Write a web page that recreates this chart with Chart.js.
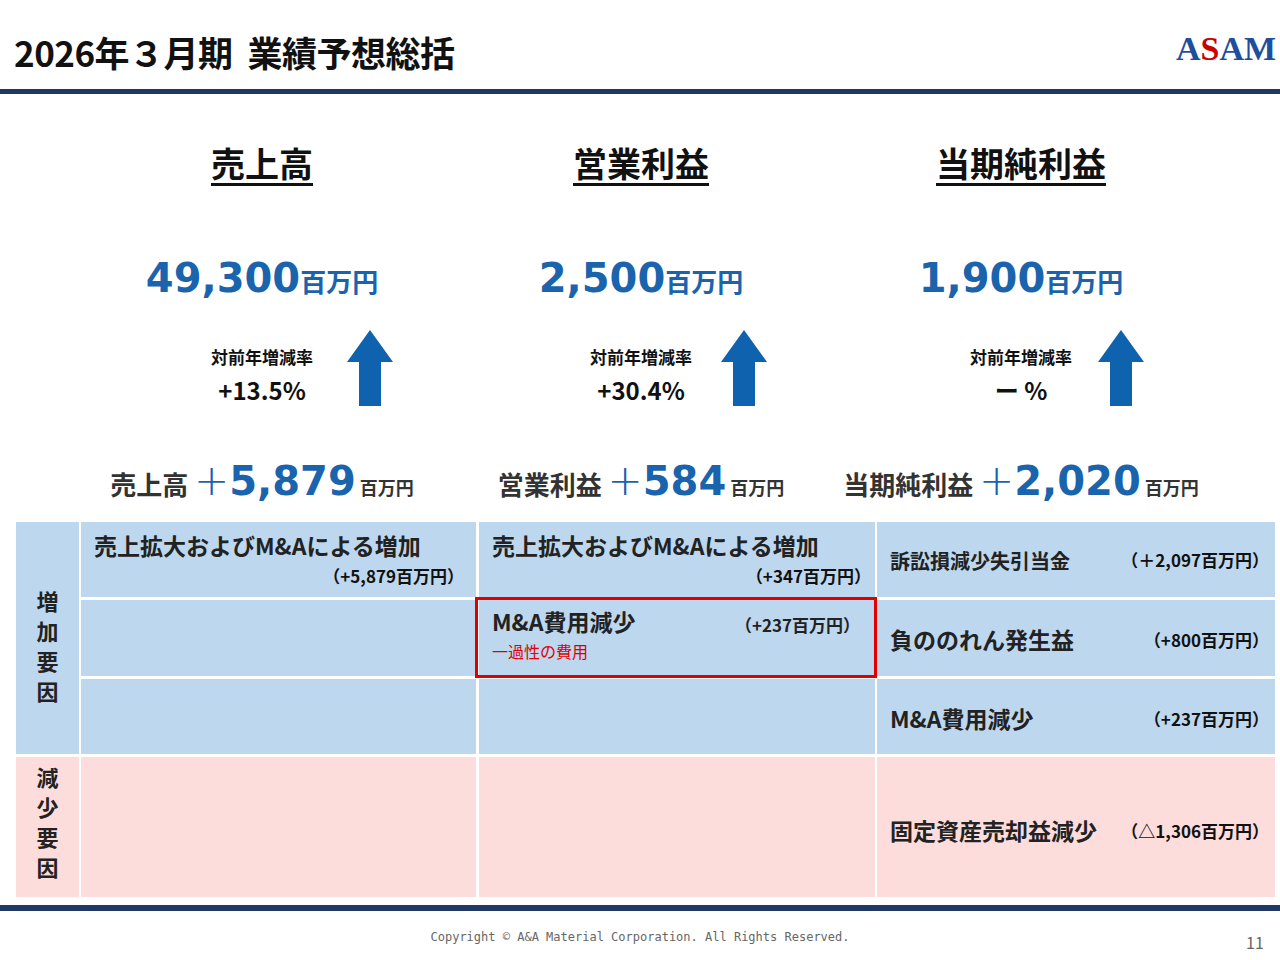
<!DOCTYPE html>
<html><head><meta charset="utf-8">
<script src="https://cdn.jsdelivr.net/npm/chart.js@4/dist/chart.umd.min.js"></script>
<style>
body{margin:0;width:1280px;height:960px;background:#fff;font-family:"Noto Sans CJK JP","Noto Sans",sans-serif;position:relative;overflow:hidden;color:#111}
.a{position:absolute}
.c{text-align:center}
.cell{position:absolute;background:#bdd7ee}
.pk{background:#fddcdc}
.b{font-weight:bold}
.num{font-family:"DejaVu Sans";font-weight:bold}
</style></head><body>
<div class="a b" style="left:14px;top:26px;font-size:35px;letter-spacing:-0.5px">2026年３月期&nbsp; 業績予想総括</div>
<div class="a" style="left:1176px;top:30px;font-family:'Liberation Serif';font-weight:bold;font-size:34px;color:#1f4e9c">A<span style="color:#c00">S</span>AM</div>
<div class="a" style="left:0;top:89px;width:1280px;height:5px;background:#1f3864"></div>
<div id="cols"></div>
<div class="a" style="left:0;top:320px;width:1280px;height:95px"><canvas id="arrows"></canvas></div>
<div id="tbl"></div>
<div class="a" style="left:0;top:905px;width:1280px;height:6px;background:#1f3864"></div>
<div class="a c" style="left:0;width:1280px;top:930px;font-family:'DejaVu Sans Mono';font-size:12px;color:#666">Copyright © A&amp;A Material Corporation. All Rights Reserved.</div>
<div class="a" style="left:1246px;top:930px;font-size:16px;color:#666">11</div>
<script>
const headings=["売上高","営業利益","当期純利益"];
const totals=["49,300","2,500","1,900"];
const rates=["+13.5%","+30.4%","ー %"];
const deltaLabels=["売上高","営業利益","当期純利益"];
const deltas=["5,879","584","2,020"];
const centers=[262,641,1021];
const arrowX=[370,744,1121];
let h="";
for(let i=0;i<3;i++){
 const x=centers[i]-200;
 h+=`<div class="a c" style="left:${x}px;width:400px;top:138px;font-size:34px;font-weight:bold;text-decoration:underline;text-underline-offset:6px">${headings[i]}</div>`;
 h+=`<div class="a c" style="left:${x}px;width:400px;top:255px;color:#1a63ad;white-space:nowrap"><span class="num" style="font-size:40px">${totals[i]}</span><span class="b" style="font-size:26px">百万円</span></div>`;
 h+=`<div class="a c b" style="left:${x}px;width:400px;top:344px;font-size:17px">対前年増減率</div>`;
 h+=`<div class="a c b" style="left:${x}px;width:400px;top:372px;font-size:24px">${rates[i]}</div>`;
 h+=`<div class="a c" style="left:${x-30}px;width:460px;top:456px;white-space:nowrap"><span style="font-size:26px;font-weight:bold;color:#333">${deltaLabels[i]} </span><span style="font-size:42px;color:#1a63ad;font-family:'DejaVu Sans';font-weight:200">+</span><span class="num" style="font-size:40px;color:#1a63ad">${deltas[i]}</span><span style="font-size:18px;font-weight:bold;color:#333"> 百万円</span></div>`;
}
document.getElementById("cols").innerHTML=h;
new Chart(document.getElementById("arrows"),{type:"bar",
 data:{labels:[],datasets:[{data:[]}]},
 options:{responsive:true,maintainAspectRatio:false,animation:false,events:[],plugins:{legend:{display:false},tooltip:{enabled:false}},
 scales:{x:{display:false},y:{display:false}}},
 plugins:[{id:"arr",afterDraw(ch){const c=ch.ctx;c.fillStyle="#0f62ad";
  arrowX.forEach(x=>{const top=10,bot=86;
   c.beginPath();c.moveTo(x,top);c.lineTo(x+23,top+32);c.lineTo(x+11,top+32);c.lineTo(x+11,bot);c.lineTo(x-11,bot);c.lineTo(x-11,top+32);c.lineTo(x-23,top+32);c.closePath();c.fill();});}}]});
const colX=[16,81,479,877],colW=[63,395,396,398];
const rowY=[522,600,679,757],rowH=[75,76,75,140];
let t="";
for(let r=0;r<3;r++)for(let c=1;c<4;c++)t+=`<div class="cell" style="left:${colX[c]}px;top:${rowY[r]}px;width:${colW[c]}px;height:${rowH[r]}px"></div>`;
t+=`<div class="cell" style="left:16px;top:522px;width:63px;height:232px"></div>`;
for(let c=0;c<4;c++)t+=`<div class="cell pk" style="left:${colX[c]}px;top:757px;width:${colW[c]}px;height:140px"></div>`;
const vt=(s,y)=>s.split("").map((ch,k)=>`<div class="a c b" style="left:16px;width:63px;top:${y+k*30}px;font-size:22px;line-height:26px;color:#222">${ch}</div>`).join("");
t+=vt("増加要因",587)+vt("減少要因",763);
const txt=(x,y,s,fs,extra="")=>`<div class="a b" style="left:${x}px;top:${y}px;font-size:${fs}px;white-space:nowrap;color:#222;${extra}">${s}</div>`;
t+=txt(94,528,"売上拡大およびM&amp;Aによる増加",23);
t+=`<div class="a b" style="left:81px;width:383px;text-align:right;top:563px;font-size:17px">（+5,879百万円）</div>`;
t+=txt(492,528,"売上拡大およびM&amp;Aによる増加",23);
t+=`<div class="a b" style="left:479px;width:392px;text-align:right;top:563px;font-size:17px">（+347百万円）</div>`;
t+=`<div class="a" style="left:475px;top:597px;width:396px;height:75px;border:3px solid #e00000"></div>`;
t+=txt(492,606,"M&amp;A費用減少",23,"line-height:30px");
t+=txt(735,612,"（+237百万円）",17);
t+=`<div class="a" style="left:492px;top:641px;font-size:16px;line-height:20px;color:#e00000">一過性の費用</div>`;
const rt=[["訴訟損減少失引当金","（＋2,097百万円）",546,20],["負ののれん発生益","（+800百万円）",622,23],["M&amp;A費用減少","（+237百万円）",701,23],["固定資産売却益減少","（△1,306百万円）",813,23]];
rt.forEach(([a,b,y,f])=>{t+=txt(890,y,a,f);t+=`<div class="a b" style="left:877px;width:392px;text-align:right;top:${y+(f==20?1:5)}px;font-size:17px">${b}</div>`;});
document.getElementById("tbl").innerHTML=t;
</script>
</body></html>
